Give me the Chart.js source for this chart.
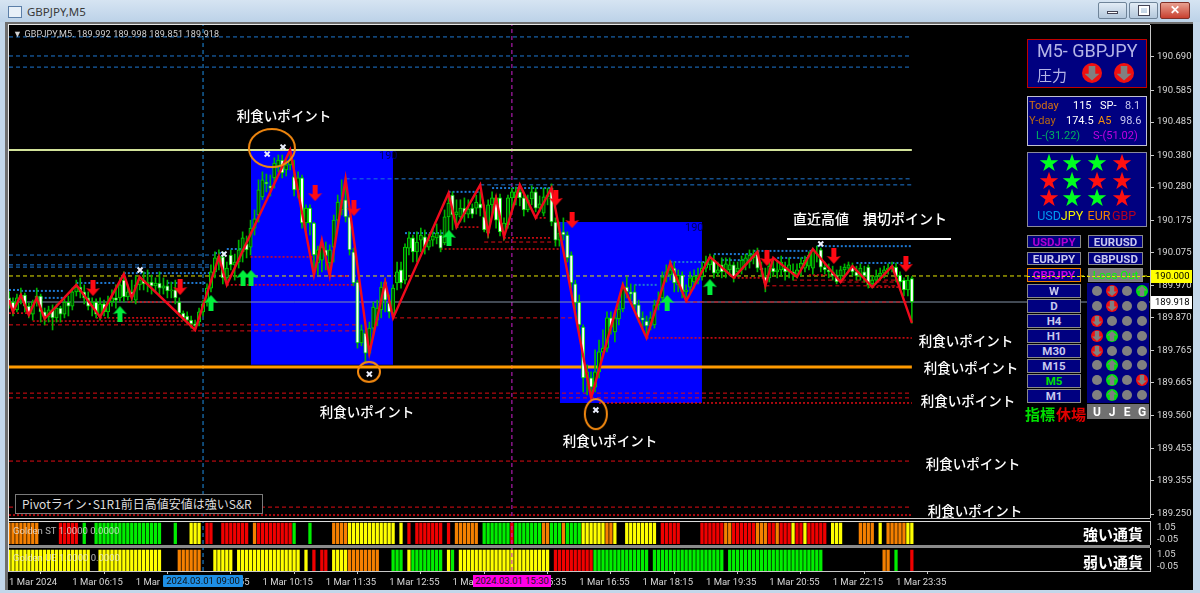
<!DOCTYPE html>
<html>
<head>
<meta charset="utf-8">
<title>GBPJPY,M5</title>
<script src="https://cdn.jsdelivr.net/npm/chart.js@4"></script>
<style>
  html, body { margin: 0; padding: 0; background: #000; }
  #page { position: relative; width: 1200px; height: 593px; overflow: hidden; background: #000; font-family: Roboto, sans-serif; }
  canvas { position: absolute; left: 0; }
  #mainWrap { position: absolute; left: 0; top: 0; width: 1192px; height: 519px; }
  #strongWrap { position: absolute; left: 0; top: 519px; width: 1192px; height: 27px; }
  #weakWrap { position: absolute; left: 0; top: 547px; width: 1192px; height: 46px; }
  #overlay { position: absolute; left: 0; top: 0; width: 1200px; height: 593px; }
  #overlay div { position: absolute; white-space: nowrap; box-sizing: border-box; }
  .jp { font-family: "Noto Sans CJK JP", sans-serif; color: #fff; font-size: 13.5px; font-weight: 500; }
  .ctr { transform: translate(-50%, -50%); }
  .btn { background: #000080; border: 1px solid #8a8a8a; color: #c8c8ee; font: bold 11.5px Roboto, sans-serif; text-align: center; line-height: 12px; }
</style>
</head>
<body>
<div id="page">
  <div id="mainWrap"><canvas id="mainChart"></canvas></div>
  <div id="strongWrap"><canvas id="strongChart"></canvas></div>
  <div id="weakWrap"><canvas id="weakChart"></canvas></div>
  <div id="overlay"></div>
</div>
<script>
// bars are 5 minute candles, index 0 = 04:55
const opens = [
189.931,189.918,189.893,189.931,189.940,189.905,189.880,189.918,189.937,189.887,
189.871,189.893,189.868,189.899,189.880,189.918,189.905,189.950,189.965,189.950,
189.931,189.905,189.918,189.874,189.912,189.887,189.918,189.931,189.931,189.987,
189.934,189.950,189.924,189.972,189.987,189.975,189.981,189.969,189.978,189.962,
189.969,189.953,189.956,189.918,189.883,189.874,189.861,189.849,189.855,189.887,
189.918,189.962,190.013,190.044,190.060,189.994,190.066,190.035,190.044,190.076,
190.101,190.091,190.151,190.192,190.249,190.296,190.284,190.309,190.343,190.365,
190.334,190.350,190.312,190.271,190.309,190.167,190.214,190.167,190.041,190.050,
190.082,190.041,190.091,190.176,190.208,190.240,190.186,190.076,189.981,189.789,
189.820,189.757,189.836,189.861,189.893,189.981,189.915,189.883,189.978,190.019,
189.987,190.088,190.120,190.076,190.113,190.123,190.091,190.113,190.120,190.129,
190.104,190.186,190.255,190.192,190.186,190.214,190.195,190.214,190.214,190.227,
190.186,190.135,190.224,190.246,190.246,190.135,190.161,190.246,190.246,190.265,
190.246,190.208,190.243,190.265,190.214,190.198,190.249,190.277,190.170,190.113,
190.139,190.129,190.066,189.975,189.918,189.839,189.679,189.679,189.650,189.698,
189.761,189.773,189.868,189.824,189.865,189.896,189.965,189.950,189.950,189.909,
189.868,189.858,189.843,189.846,189.909,189.931,189.997,190.003,190.025,189.972,
190.003,189.950,189.965,189.981,189.987,189.997,190.025,190.035,190.050,190.009,
190.035,190.013,190.019,190.035,190.013,190.019,190.035,190.044,190.057,190.076,
190.025,189.997,189.994,190.025,190.013,190.019,190.025,190.013,190.013,190.006,
190.025,190.025,190.031,190.025,190.076,190.082,190.028,190.019,190.013,190.003,
190.000,190.019,190.025,190.028,190.013,190.000,190.013,190.028,189.975,189.987,
190.000,190.009,190.019,190.025,190.028,190.003,189.987,189.956,189.992];
const highs = [
189.950,189.931,189.943,189.962,189.946,189.915,189.924,189.962,189.943,189.899,
189.905,189.909,189.912,189.905,189.931,189.937,189.962,189.987,189.994,189.972,
189.950,189.931,189.928,189.931,189.924,189.937,189.956,189.972,189.994,190.013,
189.972,189.987,190.000,190.000,190.013,190.019,190.003,189.994,190.013,189.994,
189.987,189.981,189.987,189.931,189.890,189.887,189.874,189.861,189.899,189.924,
189.975,190.035,190.076,190.082,190.076,190.044,190.082,190.069,190.113,190.139,
190.126,190.176,190.208,190.303,190.328,190.321,190.318,190.372,190.381,190.381,
190.372,190.381,190.365,190.328,190.318,190.224,190.224,190.170,190.094,190.113,
190.107,190.098,190.192,190.255,190.303,190.309,190.192,190.088,189.987,189.846,
189.830,189.855,189.918,189.924,189.981,189.994,189.940,189.972,190.044,190.044,
190.101,190.139,190.129,190.139,190.151,190.145,190.132,190.151,190.164,190.145,
190.208,190.255,190.265,190.240,190.240,190.246,190.240,190.227,190.255,190.265,
190.224,190.240,190.265,190.255,190.258,190.183,190.255,190.277,190.280,190.284,
190.255,190.255,190.284,190.277,190.252,190.277,190.277,190.290,190.183,190.170,
190.183,190.139,190.076,189.987,189.940,189.846,189.720,189.698,189.767,189.798,
189.830,189.887,189.887,189.887,189.924,189.981,189.997,189.975,189.972,189.924,
189.887,189.874,189.887,189.924,189.950,190.013,190.035,190.050,190.044,190.019,
190.013,189.972,190.013,190.019,190.025,190.044,190.063,190.069,190.066,190.044,
190.057,190.057,190.057,190.044,190.044,190.063,190.069,190.082,190.082,190.088,
190.044,190.025,190.050,190.050,190.044,190.063,190.044,190.057,190.038,190.038,
190.057,190.063,190.076,190.088,190.094,190.088,190.044,190.038,190.031,190.019,
190.031,190.038,190.044,190.041,190.031,190.038,190.031,190.035,190.000,190.019,
190.025,190.031,190.038,190.044,190.041,190.013,189.994,190.000,189.998];
const lows = [
189.899,189.874,189.887,189.912,189.887,189.868,189.861,189.905,189.855,189.846,
189.855,189.830,189.855,189.855,189.868,189.874,189.893,189.937,189.931,189.912,
189.893,189.874,189.868,189.861,189.874,189.868,189.905,189.899,189.918,189.918,
189.924,189.918,189.912,189.956,189.956,189.950,189.943,189.950,189.937,189.943,
189.931,189.931,189.912,189.874,189.861,189.849,189.836,189.830,189.843,189.874,
189.905,189.950,189.994,190.019,189.975,189.969,190.019,189.987,190.025,190.044,
190.057,190.066,190.129,190.170,190.240,190.265,190.252,190.277,190.328,190.309,
190.315,190.334,190.252,190.246,190.151,190.129,190.129,190.013,190.003,190.013,
190.019,190.000,190.044,190.151,190.192,190.170,190.066,189.969,189.773,189.780,
189.729,189.748,189.814,189.843,189.868,189.887,189.868,189.868,189.956,189.962,
189.975,190.066,190.044,190.044,190.076,190.069,190.082,190.094,190.101,190.076,
190.098,190.135,190.145,190.151,190.170,190.170,190.183,190.183,190.195,190.189,
190.139,190.120,190.192,190.151,190.126,190.113,190.151,190.208,190.224,190.221,
190.189,190.202,190.224,190.202,190.202,190.189,190.224,190.158,190.094,190.094,
190.113,190.044,189.962,189.893,189.824,189.635,189.625,189.616,189.635,189.679,
189.748,189.761,189.817,189.792,189.846,189.887,189.931,189.924,189.893,189.855,
189.836,189.805,189.830,189.836,189.893,189.918,189.981,189.987,189.950,189.950,
189.931,189.924,189.950,189.962,189.975,189.987,190.013,190.019,189.994,190.000,
189.994,189.994,190.000,189.981,190.000,190.006,190.019,190.025,190.038,190.013,
190.000,189.950,189.981,190.000,189.994,190.000,189.987,189.994,189.987,189.994,
190.000,190.013,190.019,190.006,190.044,190.013,190.006,189.994,189.987,189.975,
189.987,190.000,190.013,190.000,189.987,189.987,189.981,189.962,189.962,189.975,
189.987,189.994,190.006,190.013,189.981,189.956,189.937,189.937,189.851];
const closes = [
189.918,189.893,189.931,189.940,189.905,189.880,189.918,189.937,189.887,189.871,
189.893,189.868,189.899,189.880,189.918,189.905,189.950,189.965,189.950,189.931,
189.905,189.918,189.880,189.912,189.887,189.918,189.931,189.924,189.972,189.934,
189.950,189.934,189.972,189.987,189.975,189.981,189.969,189.978,189.962,189.969,
189.953,189.956,189.931,189.883,189.868,189.861,189.849,189.843,189.887,189.912,
189.962,190.013,190.057,190.063,189.994,190.025,190.035,190.044,190.082,190.120,
190.082,190.151,190.180,190.271,190.303,190.290,190.277,190.356,190.365,190.325,
190.350,190.365,190.271,190.309,190.167,190.214,190.167,190.066,190.082,190.091,
190.063,190.082,190.176,190.233,190.240,190.186,190.082,189.978,189.789,189.830,
189.757,189.836,189.902,189.899,189.965,189.924,189.887,189.962,190.013,189.978,
190.091,190.120,190.076,190.107,190.129,190.091,190.113,190.126,190.135,190.088,
190.186,190.230,190.192,190.202,190.214,190.195,190.211,190.195,190.233,190.214,
190.145,190.224,190.246,190.176,190.139,190.167,190.246,190.265,190.265,190.246,
190.208,190.240,190.265,190.214,190.227,190.249,190.255,190.170,190.113,190.135,
190.129,190.057,189.978,189.915,189.846,189.679,189.698,189.650,189.698,189.761,
189.773,189.868,189.839,189.868,189.896,189.965,189.950,189.943,189.909,189.868,
189.861,189.843,189.868,189.909,189.924,189.997,190.013,190.019,189.978,190.003,
189.950,189.956,189.994,190.000,190.000,190.025,190.044,190.060,190.009,190.019,
190.013,190.038,190.035,189.997,190.025,190.050,190.057,190.066,190.069,190.025,
190.019,189.978,190.031,190.013,190.019,190.044,190.013,190.035,190.006,190.019,
190.041,190.050,190.066,190.082,190.076,190.028,190.019,190.013,190.000,189.981,
190.019,190.028,190.035,190.013,190.000,190.025,190.000,189.972,189.987,190.000,
190.009,190.019,190.025,190.031,189.997,189.981,189.956,189.987,189.918];

// zigzag line: bar index and price
const zigzagBars = [0,1,3,5,7,9,17,23,29,31,33,47,53,55,71,77,79,81,85,91,95,97,111,113,119,121,123,125,129,133,137,147,155,161,167,171,177,183,189,191,193,199,203,210,213,218,223,228];
const zigzagPrices = [189.924,189.887,189.940,189.877,189.931,189.865,189.972,189.871,190.006,189.931,189.997,189.830,190.060,189.972,190.397,190.003,190.113,190.000,190.306,189.757,189.981,189.868,190.261,190.154,190.287,190.135,190.246,190.123,190.287,190.183,190.277,189.616,189.972,189.805,190.041,189.921,190.060,189.994,190.076,189.969,190.057,189.997,190.085,189.981,190.031,189.965,190.031,189.852];

// horizontal levels: [price, first bar, last bar]
const blueDashLevels = [[190.753,0,228],[190.693,0,228],[190.658,0,228],[190.306,85,228],[190.287,119,228],[190.066,0,53],[190.035,0,51],[190.028,0,51]];
const blueDotLevels = [[189.956,0,3],[189.953,3,14],[189.931,7,14],[189.978,17,27],[190.009,29,51],[189.978,40,50],[190.072,52,55],[190.085,55,59],[190.135,100,110],[190.265,111,119],[190.277,122,137],[189.972,158,164],[190.044,167,176],[190.069,178,188],[190.050,180,188],[190.079,188,203],[190.057,194,202],[190.094,204,228],[190.041,214,228]];
const redDashLevels = [[189.846,0,88],[189.827,46,88],[189.631,0,228],[189.616,0,228],[189.417,0,228],[189.272,0,228],[189.918,171,227],[189.969,191,225],[189.987,198,224],[189.981,210,224],[190.107,120,138],[189.868,97,143]];
const redDotLevels = [[189.883,0,5],[189.858,6,46],[189.868,22,43],[189.918,30,42],[189.972,55,87],[190.060,61,77],[190.000,81,86],[190.085,109,139],[190.154,113,119],[190.120,125,137],[190.183,133,136],[189.600,149,228],[189.805,161,228],[189.994,183,191],[190.003,202,209],[189.965,217,225],[189.247,0,228]];

// blue session boxes: first bar, last bar, high, low
const boxFrom = [61.1, 139.1];
const boxTo = [97, 175];
const boxHigh = [190.397, 190.170];
const boxLow = [189.720, 189.600];

const sellBars = [21.2,43.2,77.3,87.1,138.1,142.2,191.4,208.3,226.5];
const sellPrices = [189.962,189.965,190.261,190.214,190.246,190.176,190.057,190.063,190.038];
const buyBars = [28,51,59.1,61.1,111.1,166.2,177];
const buyPrices = [189.880,189.915,189.994,189.994,190.120,189.915,189.965];
const markBars = [65.2,69.2,33.1,54.3,91,148.2,205];
const markPrices = [190.384,190.406,190.019,190.069,189.691,189.578,190.101];
const ringBars = [66.4,90.9,148.2];
const ringPrices = [190.403,189.698,189.565];

const priceTicks = [190.690,190.585,190.485,190.380,190.280,190.175,190.075,189.970,189.870,189.765,189.665,189.560,189.455,189.355,189.250];
const timeTickBars = [0,16,32,48,64,80,96,112,128,144,160,176,192,208,224];
const timeLabels = ['1 Mar 2024','1 Mar 06:15','1 Mar 07:35','1 Mar 08:55','1 Mar 10:15','1 Mar 11:35','1 Mar 12:55','1 Mar 14:15','1 Mar 15:35','1 Mar 16:55','1 Mar 18:15','1 Mar 19:35','1 Mar 20:55','1 Mar 22:15','1 Mar 23:35'];

// 0 none, 1 green, 2 yellow, 3 orange, 4 red
const strongStates = [
3,3,3,3,3,3,3,3,0,0, 0,0,0,4,4,4,4,4,0,1, 0,0,1,1,1,1,1,1,1,1, 1,1,1,1,1,1,1,1,1,0,
0,0,1,0,0,0,2,2,2,0, 4,4,0,0,4,4,4,4,4,4, 4,0,3,4,4,4,4,4,4,4, 4,4,1,0,0,0,1,0,0,0,
0,0,3,3,3,3,2,2,2,2, 2,2,2,2,2,2,2,2,0,2, 0,4,0,4,4,4,4,4,4,4, 0,4,0,3,3,3,3,3,3,0,
1,1,1,1,1,1,1,4,1,1, 1,1,1,1,1,3,3,1,1,1, 3,1,1,1,1,2,2,2,2,2, 2,3,3,2,0,0,2,2,2,2,
2,2,2,2,0,4,4,4,4,4, 0,0,0,0,0,4,4,4,4,4, 4,3,3,4,4,4,4,4,4,3, 3,3,4,4,3,4,4,4,2,4,
4,2,4,4,4,4,4,0,2,2, 2,0,0,0,0,3,3,3,3,0, 2,0,3,3,3,3,3,2,2];
const weakStates = [
2,2,2,2,2,2,2,2,2,2, 2,2,2,2,2,2,2,2,2,2, 2,0,0,2,2,2,2,2,2,2, 2,2,2,2,2,2,2,2,2,0,
0,0,0,3,3,3,3,3,3,0, 0,0,2,2,2,2,2,0,2,2, 2,2,2,2,2,2,2,2,2,2, 2,2,2,2,0,2,0,4,0,4,
4,0,2,2,2,2,3,3,3,3, 3,3,3,3,0,0,0,1,1,1, 0,2,1,1,1,1,1,1,1,1, 0,2,1,0,2,2,2,2,2,2,
2,2,2,2,2,2,2,2,2,2, 2,2,2,2,2,2,2,0,4,4, 4,4,4,4,4,4,4,4,1,1, 1,1,1,1,1,1,1,1,1,1,
1,1,0,1,1,1,1,1,1,1, 1,1,1,1,1,1,1,1,1,1, 1,0,1,1,1,1,1,1,1,1, 1,1,1,1,1,1,1,1,1,1,
1,1,1,1,1,1,0,0,0,0, 0,0,0,0,0,0,0,0,0,0, 0,3,3,0,1,0,0,0,4];
const panelTicks = [1.05, -0.05];

const vLineBars = [49, 127];
const vLineColors = ['#1e8fe6', '#d020d0'];
const lastBar = 288.14;
const stateColors = [null, '#00ee00', '#ffff00', '#f58000', '#f00000'];

// keep the plot area where the padding puts it, labels may overhang
const fixedWidth = s => {
    s.width = 42;
    s.paddingTop = 0;
    s.paddingBottom = 0;
};

// level lines, dashes differ per group
function levelSets(list, color, dash, width) {
    return list.map(l => ({
        type: 'line', order: 5, data: [{x: l[1], y: l[0]}, {x: l[2], y: l[0]}],
        borderColor: color, borderWidth: width || 1, borderDash: dash, pointRadius: 0
    }));
}

function arrowImage(color, up) {
    let c = document.createElement('canvas');
    c.width = 15; c.height = 16;
    let g = c.getContext('2d');
    if (!up) { g.translate(0, 16); g.scale(1, -1); }
    g.fillStyle = color;
    g.beginPath();
    g.moveTo(7.5, 0); g.lineTo(14.5, 8); g.lineTo(10, 7); g.lineTo(10, 16); g.lineTo(5, 16); g.lineTo(5, 7); g.lineTo(0.5, 8);
    g.closePath();
    g.fill();
    return c;
}

function ringImage(w, h) {
    let c = document.createElement('canvas');
    c.width = w + 4; c.height = h + 4;
    let g = c.getContext('2d');
    g.strokeStyle = '#f58a10';
    g.lineWidth = 2;
    g.beginPath();
    g.ellipse(c.width / 2, c.height / 2, w / 2, h / 2, 0, 0, Math.PI * 2);
    g.stroke();
    return c;
}

function zipPoints(xs, ys) {
    return xs.map((x, i) => ({x: x, y: ys[i]}));
}

// price flags on the axis
const axisFlags = {
    id: 'axisFlags',
    afterDraw(chart) {
        let ctx = chart.ctx, y = chart.scales.y;
        [[190.000, '#ffff00'], [189.918, '#ffffff']].forEach(f => {
            let py = y.getPixelForValue(f[0]);
            ctx.fillStyle = f[1];
            ctx.fillRect(1151, py - 6, 41, 13);
            ctx.fillStyle = '#000';
            ctx.font = '9.5px Roboto';
            ctx.textAlign = 'left';
            ctx.textBaseline = 'middle';
            ctx.fillText(f[0].toFixed(3), 1155, py + 1);
        });
    }
};

let mainSets = [];
boxFrom.forEach((b, i) => {
    mainSets.push({
        type: 'line', order: 10, data: [{x: b, y: boxHigh[i]}, {x: boxTo[i], y: boxHigh[i]}],
        borderWidth: 0, pointRadius: 0, backgroundColor: '#0000ff', fill: {value: boxLow[i]}
    });
});
mainSets = mainSets.concat(
    levelSets(blueDashLevels, '#1e78d2', [4, 3]),
    levelSets(blueDotLevels, '#1e78d2', [2, 2], 2),
    levelSets(redDashLevels, '#e00c14', [4, 3]),
    levelSets(redDotLevels, '#e00c14', [2, 2], 1.5)
);
vLineBars.forEach((b, i) => {
    mainSets.push({
        type: 'line', order: 6, data: [{x: b, y: 190.80}, {x: b, y: 189.23}],
        borderColor: vLineColors[i], borderWidth: 1, borderDash: [4, 3], pointRadius: 0
    });
});
mainSets.push(
    {type: 'line', order: 5, data: [{x: 0, y: 190.397}, {x: 228, y: 190.397}], borderColor: '#d2e29a', borderWidth: 2, pointRadius: 0},
    {type: 'line', order: 5, data: [{x: 0, y: 189.713}, {x: 228, y: 189.713}], borderColor: '#ff9a00', borderWidth: 3, pointRadius: 0},
    {type: 'line', order: 5, data: [{x: 0, y: 190.000}, {x: lastBar, y: 190.000}], borderColor: '#e6e600', borderWidth: 1, borderDash: [4, 3], pointRadius: 0},
    {type: 'line', order: 5, data: [{x: 0, y: 189.918}, {x: lastBar, y: 189.918}], borderColor: '#8494a8', borderWidth: 1, pointRadius: 0},
    {
        type: 'bar', order: 4, grouped: false, barThickness: 1, backgroundColor: '#00b400',
        data: lows.map((l, i) => ({x: i, y: [l, highs[i]]}))
    },
    {
        type: 'bar', order: 3, grouped: false, barThickness: 3.4, borderWidth: 1, borderSkipped: false, borderColor: '#00d800',
        backgroundColor: ctx => closes[ctx.dataIndex] < opens[ctx.dataIndex] ? '#ffffff' : '#004a00',
        data: opens.map((o, i) => ({x: i, y: [Math.min(o, closes[i]), Math.max(o, closes[i])]}))
    },
    {type: 'line', order: 2, data: zipPoints(zigzagBars, zigzagPrices), borderColor: '#f00a1c', borderWidth: 2.4, tension: 0, pointRadius: 0},
    {type: 'line', order: 1, showLine: false, data: zipPoints(sellBars, sellPrices), pointStyle: arrowImage('#ff0a14', false)},
    {type: 'line', order: 1, showLine: false, data: zipPoints(buyBars, buyPrices), pointStyle: arrowImage('#00f03c', true)},
    {type: 'line', order: 1, showLine: false, data: zipPoints(markBars, markPrices), pointStyle: 'crossRot', pointRadius: 3.5, pointBorderColor: '#eef2ff', pointBorderWidth: 2},
    {type: 'line', order: 0, showLine: false, data: zipPoints(ringBars, ringPrices), pointStyle: [ringImage(46, 38), ringImage(22, 20), ringImage(22, 30)]}
);

new Chart(document.getElementById('mainChart'), {
    type: 'bar',
    data: {datasets: mainSets},
    plugins: [axisFlags],
    options: {
        responsive: true, maintainAspectRatio: false, animation: false, events: [],
        layout: {autoPadding: false, padding: {left: 9, top: 25, right: 0, bottom: 2}},
        plugins: {legend: {display: false}, tooltip: {enabled: false}},
        scales: {
            x: {type: 'linear', display: false, min: 0, max: lastBar, offset: false},
            y: {
                position: 'right', min: 189.2408, max: 190.7906, afterFit: fixedWidth,
                afterBuildTicks: axis => { axis.ticks = priceTicks.map(v => ({value: v})); },
                grid: {drawOnChartArea: false, tickLength: 4, color: '#c8c8c8'},
                border: {color: '#c8c8c8'},
                ticks: {color: '#d8d8d8', padding: 3, font: {family: 'Roboto', size: 9.5}, autoSkip: false, callback: v => v.toFixed(3)}
            }
        }
    }
});

// the two colour strip panels below the price chart
function panelChart(id, states, withTime, padTop) {
    let sets = [];
    [1, 2, 3, 4].forEach(s => {
        let pts = [];
        states.forEach((v, i) => { if (v === s) pts.push({x: i, y: 1}); });
        sets.push({type: 'bar', order: 3, grouped: false, barThickness: 2.6, backgroundColor: stateColors[s], data: pts});
    });
    vLineBars.forEach((b, i) => {
        sets.push({
            type: 'line', order: 1, data: [{x: b, y: 0}, {x: b, y: 1.1}],
            borderColor: vLineColors[i], borderWidth: 1, borderDash: [4, 3], pointRadius: 0
        });
    });
    new Chart(document.getElementById(id), {
        type: 'bar',
        data: {datasets: sets},
        options: {
            responsive: true, maintainAspectRatio: false, animation: false, events: [],
            layout: {autoPadding: false, padding: {left: 9, top: padTop, right: 0, bottom: withTime ? 0 : 2}},
            plugins: {legend: {display: false}, tooltip: {enabled: false}},
            scales: {
                x: {
                    type: 'linear', display: withTime, min: 0, max: lastBar, offset: false,
                    afterFit: s => { s.height = withTime ? 22 : 0; s.paddingLeft = 0; s.paddingRight = 0; },
                    afterBuildTicks: axis => { axis.ticks = timeTickBars.map(v => ({value: v})); },
                    grid: {drawOnChartArea: false, tickLength: 3, color: '#c8c8c8'},
                    border: {color: '#c8c8c8'},
                    ticks: {
                        color: '#d8d8d8', align: 'start', padding: 3, autoSkip: false, maxRotation: 0, minRotation: 0,
                        font: {family: 'Roboto', size: 9.5}, callback: (v, i) => timeLabels[i]
                    }
                },
                y: {display: false, min: 0, max: 1.1},
                yLabel: {
                    position: 'right', min: -0.417, max: 1.69, afterFit: fixedWidth,
                    afterBuildTicks: axis => { axis.ticks = panelTicks.map(v => ({value: v})); },
                    grid: {drawOnChartArea: false, drawTicks: false},
                    border: {color: '#c8c8c8'},
                    ticks: {color: '#d8d8d8', padding: 7, font: {family: 'Roboto', size: 9.5}, autoSkip: false, callback: v => v.toFixed(2)}
                }
            }
        }
    });
}
panelChart('strongChart', strongStates, false, 2);
panelChart('weakChart', weakStates, true, 1);

// ---- everything that is not the chart: window frame, texts, the right side widgets ----
const overlay = document.getElementById('overlay');
function put(style, text, cls) {
    let d = document.createElement('div');
    d.style.cssText = style;
    if (cls) d.className = cls;
    if (text !== undefined) d.textContent = text;
    overlay.appendChild(d);
    return d;
}

// window frame
put('left:0;top:0;width:1200px;height:22px;background:linear-gradient(#d6e4f2,#bcd2e8);');
put('left:0;top:22px;width:5px;height:571px;background:#c3d7ea;');
put('left:1193px;top:22px;width:7px;height:571px;background:#c3d7ea;');
put('left:0;top:590px;width:1200px;height:3px;background:#c3d7ea;');
put('left:5px;top:22px;width:1188px;height:2px;background:#6e6e6e;');
put('left:5px;top:22px;width:3px;height:568px;background:#6e6e6e;');
put('left:8px;top:24px;width:1px;height:548px;background:#e8e8e8;');
put('left:8px;top:24px;width:1142px;height:1px;background:#e8e8e8;');
put('left:8px;top:6px;width:14px;height:12px;background:#e8f0f8;border:1px solid #5c7fa8;');
put('left:27px;top:4px;font:11.5px "Noto Sans",sans-serif;color:#3a3a3a;', 'GBPJPY,M5');
put('left:1098px;top:2px;width:29px;height:17px;background:linear-gradient(#e2ecf6,#b4c8dc);border:1px solid #6f8499;border-radius:2px;');
put('left:1107px;top:11px;width:11px;height:3px;background:#fff;border:1px solid #445;');
put('left:1129px;top:2px;width:29px;height:17px;background:linear-gradient(#e2ecf6,#b4c8dc);border:1px solid #6f8499;border-radius:2px;');
put('left:1139px;top:6px;width:10px;height:9px;border:2px solid #fff;outline:1px solid #445;');
put('left:1160px;top:2px;width:30px;height:17px;background:linear-gradient(#e8a090,#c84030);border:1px solid #803028;border-radius:2px;color:#fff;font:bold 12px Roboto;text-align:center;line-height:15px;', '\u2715');

// separators between the panels
put('left:9px;top:518px;width:1141px;height:1px;background:#cfcfcf;');
put('left:9px;top:521px;width:1141px;height:1px;background:#dcdcdc;');
put('left:9px;top:545px;width:1141px;height:3px;background:#8a8a8a;');

// header and captions
put('left:13px;top:29px;font:9px Roboto;color:#d0d0d0;letter-spacing:0.15px;', '\u25BC GBPJPY,M5. 189.992 189.998 189.851 189.918');
put('left:13px;top:525px;font:9.5px Roboto;color:rgba(235,235,235,0.75);', 'Golden ST 1.0000 0.0000');
put('left:13px;top:552px;font:9.5px Roboto;color:rgba(235,235,235,0.75);', 'Golden UE 1.0000 0.0000');
put('left:15px;top:494px;width:248px;height:20px;border:1px solid #7a7a7a;background:#000;color:#ddd;font:12px/18px "Noto Sans CJK JP",sans-serif;padding-left:6px;', 'Pivot\u30E9\u30A4\u30F3\uFF65S1R1\u524D\u65E5\u9AD8\u5024\u5B89\u5024\u306F\u5F37\u3044S&R');
put('left:379px;top:149px;font:11px Roboto;color:#000060;', '190');
put('left:685px;top:221px;font:11px Roboto;color:#000060;', '190');

const takeProfit = '\u5229\u98DF\u3044\u30DD\u30A4\u30F3\u30C8';
[[284, 115], [367, 411], [610, 440], [966, 340], [971, 367], [968, 400], [973, 463], [975, 510]].forEach(p => {
    put('left:' + p[0] + 'px;top:' + p[1] + 'px;', takeProfit, 'jp ctr');
});
put('left:870px;top:218px;font-size:14px;', '\u76F4\u8FD1\u9AD8\u5024\u3000\u640D\u5207\u30DD\u30A4\u30F3\u30C8', 'jp ctr');
put('left:787px;top:238px;width:164px;height:2px;background:#fff;');
put('left:1113px;top:533px;font-weight:bold;font-size:15px;', '\u5F37\u3044\u901A\u8CA8', 'jp ctr');
put('left:1113px;top:561px;font-weight:bold;font-size:15px;', '\u5F31\u3044\u901A\u8CA8', 'jp ctr');

// crosshair time flags
put('left:163px;top:575px;width:80px;height:12px;background:#1e8fe6;color:#111;font:9.5px/12px Roboto;text-align:center;border-radius:1px;', '2024.03.01 09:00');
put('left:473px;top:575px;width:78px;height:12px;background:#ff00e6;color:#111;font:9.5px/12px Roboto;text-align:center;', '2024.03.01 15:30');

// pressure box
put('left:1027px;top:39px;width:120px;height:49px;background:#000080;border:1px solid #c00000;');
put('left:1037px;top:40px;font:18px Roboto;color:#b4b4e6;', 'M5- GBPJPY');
put('left:1037px;top:64px;font:15px "Noto Sans CJK JP";color:#b4b4e6;', '\u5727\u529B');
function signal(x, y, r, color) {
    put('left:' + (x - r) + 'px;top:' + (y - r) + 'px;width:' + (2 * r) + 'px;height:' + (2 * r) + 'px;border-radius:50%;background:' + color + ';');
}
function signalArrow(x, y, size, up) {
    let poly = up ? 'polygon(50% 0,100% 45%,72% 45%,72% 100%,28% 100%,28% 45%,0 45%)' : 'polygon(28% 0,72% 0,72% 55%,100% 55%,50% 100%,0 55%,28% 55%)';
    put('left:' + (x - size / 2) + 'px;top:' + (y - size / 2) + 'px;width:' + size + 'px;height:' + size + 'px;background:#808080;clip-path:' + poly + ';');
}
[1092, 1124].forEach(x => { signal(x, 73, 10, '#f01010'); signalArrow(x, 73, 15, false); });

// day stats box
put('left:1027px;top:96px;width:120px;height:50px;background:#000080;border:1px solid #c0c0d0;');
const statCells = [
    ['Today', 1029, 99, '#d87010'], ['115', 1073, 99, '#fff'], ['SP-', 1100, 99, '#fff'], ['8.1', 1125, 99, '#c8c8ee'],
    ['Y-day', 1029, 114, '#b86810'], ['174.5', 1066, 114, '#fff'], ['A5', 1098, 114, '#f09010'], ['98.6', 1120, 114, '#c8c8ee'],
    ['L-(31.22)', 1036, 129, '#00b060'], ['S-(51.02)', 1093, 129, '#c000e0']
];
statCells.forEach(c => put('left:' + c[1] + 'px;top:' + c[2] + 'px;font:11px Roboto;color:' + c[3] + ';', c[0]));

// currency stars
put('left:1027px;top:152px;width:120px;height:75px;background:#000080;border:1px solid #8a8a9c;');
const starCols = [1049, 1072, 1097, 1122];
const starRows = [163, 181, 198];
const starGrid = [['#00ff20', '#00ff20', '#00ff20', '#ff1010'], ['#ff1010', '#00ff20', '#ff1010', '#ff1010'], ['#ff1010', '#00ff20', '#00ff20', '#ff1010']];
starGrid.forEach((row, r) => row.forEach((col, c) => {
    put('left:' + starCols[c] + 'px;top:' + starRows[r] + 'px;font:24px "DejaVu Sans";color:' + col + ';', '\u2605', 'ctr');
}));
['USD', 'JPY', 'EUR', 'GBP'].forEach((t, i) => {
    put('left:' + [1049, 1072, 1099, 1124][i] + 'px;top:215px;font:12.5px Roboto;color:' + ['#0098f0', '#f0f000', '#f08000', '#b80020'][i] + ';', t, 'ctr');
});

// pair buttons
put('left:1027px;top:235px;width:54px;height:13px;color:#b000d0;', 'USDJPY', 'btn');
put('left:1088px;top:235px;width:55px;height:13px;', 'EURUSD', 'btn');
put('left:1027px;top:252px;width:54px;height:13px;', 'EURJPY', 'btn');
put('left:1088px;top:252px;width:55px;height:13px;', 'GBPUSD', 'btn');
put('left:1027px;top:268px;width:54px;height:14px;color:#c000e0;border-color:#f08000;', 'GBPJPY', 'btn');
put('left:1088px;top:268px;width:55px;height:14px;background:#808080;color:#00ff00;font-weight:normal;', 'Loss Out', 'btn');

// the 190.000 level crosses the buttons in the reference
put('left:1027px;top:276px;width:123px;height:0;border-top:1px dashed #e6e600;');

// timeframe table
const frames = ['W', 'D', 'H4', 'H1', 'M30', 'M15', 'M5', 'M1'];
const frameTops = [284, 299, 314, 329, 344, 359, 374, 389];
const dotRows = [291, 306, 321, 336, 351, 365, 380, 395];
const dotCols = [1097, 1112, 1127, 1142];
const dotStates = [
    ['', 'd', '', 'u'], ['', 'd', '', ''], ['d', '', '', ''], ['d', 'u', '', ''],
    ['d', '', '', ''], ['', 'u', '', ''], ['', 'u', '', 'd'], ['', 'u', '', '']
];
put('left:1087px;top:283px;width:62px;height:120px;background:#000080;');
frames.forEach((f, i) => {
    let s = 'left:1027px;top:' + frameTops[i] + 'px;width:54px;height:14px;line-height:13px;';
    if (f === 'M5') s += 'color:#00e000;';
    put(s, f, 'btn');
    dotStates[i].forEach((st, c) => {
        let x = dotCols[c], y = dotRows[i];
        if (st === '') {
            signal(x, y, 5, '#808080');
        } else {
            signal(x, y, 6, st === 'u' ? '#00e010' : '#f01010');
            signalArrow(x, y, 10, st === 'u');
        }
    });
});
put('left:1025px;top:403px;font:bold 15px "Noto Sans CJK JP";color:#00e000;', '\u6307\u6A19');
put('left:1056px;top:403px;font:bold 15px "Noto Sans CJK JP";color:#e00000;', '\u4F11\u5834');
put('left:1087px;top:404px;width:62px;height:15px;background:#707070;');
['U', 'J', 'E', 'G'].forEach((t, i) => {
    put('left:' + dotCols[i] + 'px;top:412px;font:bold 12px Roboto;color:#fff;', t, 'ctr');
});
</script>
</body>
</html>
